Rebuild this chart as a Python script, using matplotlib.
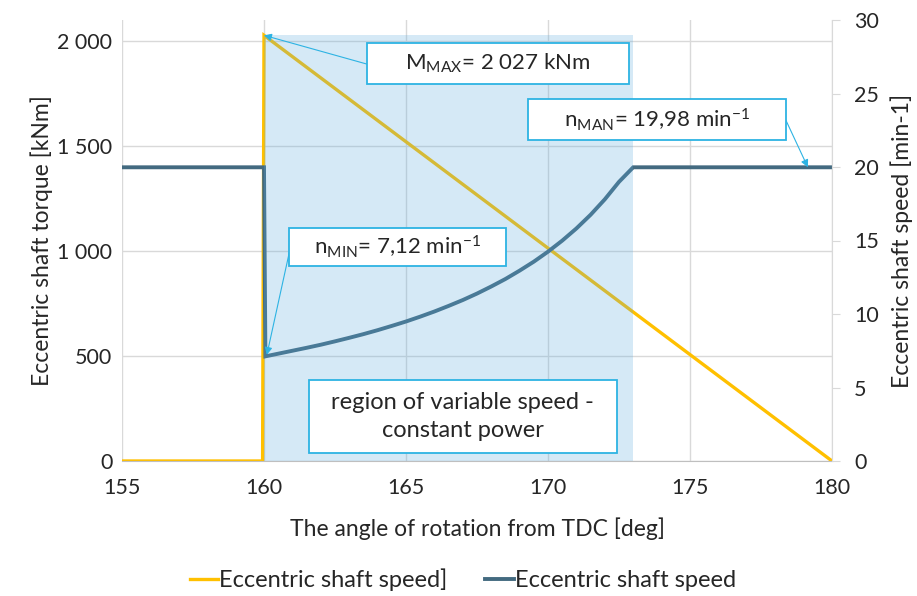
import matplotlib
matplotlib.use("Agg")
import matplotlib.pyplot as plt
from matplotlib.patches import Rectangle
from matplotlib.ticker import FuncFormatter

plt.rcParams['font.family'] = ['Lato', 'DejaVu Sans']
plt.rcParams['mathtext.fontset'] = 'custom'
plt.rcParams['mathtext.rm'] = 'Lato'
plt.rcParams['mathtext.it'] = 'Lato'

# torque curve [kNm] vs angle [deg]
torque_angle = [155, 159.95, 160, 180]
torque_val = [0, 0, 2027, 0]

# speed curve [min-1] vs angle [deg]
speed_angle = [155, 160, 160.05, 160.5, 161, 161.5, 162, 162.5, 163, 163.5,
               164, 164.5, 165, 165.5, 166, 166.5, 167, 167.5, 168, 168.5,
               169, 169.5, 170, 170.5, 171, 171.5, 172, 172.5, 173, 180]
speed_val = [19.98, 19.98, 7.12, 7.30, 7.50, 7.70, 7.91, 8.14, 8.38, 8.63,
             8.90, 9.19, 9.49, 9.82, 10.17, 10.55, 10.95, 11.39, 11.87, 12.38,
             12.95, 13.56, 14.24, 14.99, 15.82, 16.75, 17.80, 18.99, 19.98, 19.98]

region = (160, 173)      # variable speed - constant power
m_max = 2027
n_min = 7.12
n_man = 19.98

x_ticks = [155, 160, 165, 170, 175, 180]
left_ticks = [0, 500, 1000, 1500, 2000]
right_ticks = [0, 5, 10, 15, 20, 25, 30]

yellow = '#FFC000'
slate = '#436A80'
cyan = '#2DB3E3'
grid_c = '#D9D9D9'
txt = '#262626'

fig = plt.figure(figsize=(9.17, 5.96), dpi=100)
ax = fig.add_axes([122 / 917, 1 - 461 / 596, 710 / 917, 441 / 596])
ax2 = ax.twinx()

ax.plot(torque_angle, torque_val, color=yellow, lw=2.4, solid_joinstyle='miter',
        label='Eccentric shaft speed]', zorder=2)
ax2.plot(speed_angle, speed_val, color=slate, lw=2.8, solid_joinstyle='miter',
         label='Eccentric shaft speed', zorder=2)

ax.set_xlim(155, 180)
ax.set_ylim(0, 2100)
ax2.set_ylim(0, 30)
ax.set_xticks(x_ticks)
ax.set_yticks(left_ticks)
ax2.set_yticks(right_ticks)
ax.yaxis.set_major_formatter(FuncFormatter(lambda v, p: f'{int(v):,}'.replace(',', ' ')))

ax.grid(True, color=grid_c, lw=1)
ax.set_axisbelow(True)
for a in (ax, ax2):
    for s in a.spines.values():
        s.set_visible(False)
ax2.spines['right'].set_visible(True)
ax2.spines['right'].set_color(grid_c)
ax.spines['bottom'].set_visible(True)
ax.spines['bottom'].set_color('#BFBFBF')

ax.tick_params(axis='y', length=0, pad=7, labelsize=15.5, colors=txt)
ax.tick_params(axis='x', length=0, pad=12, labelsize=15.5, colors=txt)
ax2.tick_params(axis='y', length=6, pad=10, labelsize=15.5, colors=txt)
ax2.tick_params(axis='y', color=grid_c)

ax.set_ylabel('Eccentric shaft torque [kNm]', fontsize=16.5, color=txt, labelpad=3)
ax2.set_ylabel('Eccentric shaft speed [min-1]', fontsize=16.5, color=txt, labelpad=8)
ax.set_xlabel('The angle of rotation from TDC [deg]', fontsize=16.5, color=txt, labelpad=14)

# shaded region, drawn on top of the curves
ax2.add_patch(Rectangle((region[0], 0), region[1] - region[0], m_max,
                        transform=ax.transData, facecolor='#5BAADD', alpha=0.25,
                        lw=0, zorder=3))


def box(x0, y0, x1, y1, text, size):
    ax2.add_patch(Rectangle((x0, y0), x1 - x0, y1 - y0, transform=ax2.transAxes,
                            facecolor='white', edgecolor=cyan, lw=1.3, zorder=6))
    ax2.text((x0 + x1) / 2, (y0 + y1) / 2, text, transform=ax2.transAxes,
             ha='center', va='center', fontsize=size, color=txt, zorder=7,
             linespacing=1.45)


arrow = dict(arrowstyle='-|>', color=cyan, lw=0.8, mutation_scale=11,
             shrinkA=0, shrinkB=0)

ax2.annotate('', xy=(160, m_max), xycoords=ax.transData,
             xytext=(0.345, 0.9), textcoords='axes fraction',
             arrowprops=arrow, zorder=5)
box(0.345, 0.855, 0.714, 0.948, r'$\mathrm{M_{MAX}}$= 2 027 kNm', 16)

ax2.annotate('', xy=(179.15, n_man), xytext=(0.935, 0.773),
             textcoords='axes fraction', arrowprops=arrow, zorder=5)
box(0.572, 0.728, 0.935, 0.821, r'$\mathrm{n_{MAN}}$= 19,98 min$^{\mathrm{-1}}$', 16)

ax2.annotate('', xy=(160.1, n_min + 0.1), xytext=(0.237, 0.483),
             textcoords='axes fraction', arrowprops=arrow, zorder=5)
box(0.235, 0.442, 0.541, 0.528, r'$\mathrm{n_{MIN}}$= 7,12 min$^{\mathrm{-1}}$', 16)

box(0.263, 0.018, 0.697, 0.184, 'region of variable speed -\nconstant power', 17)

h1, l1 = ax.get_legend_handles_labels()
h2, l2 = ax2.get_legend_handles_labels()
fig.legend(h1 + h2, l1 + l2, loc='center', bbox_to_anchor=(463 / 917, 1 - 580 / 596),
           ncol=2, frameon=False, fontsize=17, handlelength=1.2, handletextpad=0.05,
           columnspacing=1.6, labelcolor=txt)

fig.savefig('out.png', dpi=100)
